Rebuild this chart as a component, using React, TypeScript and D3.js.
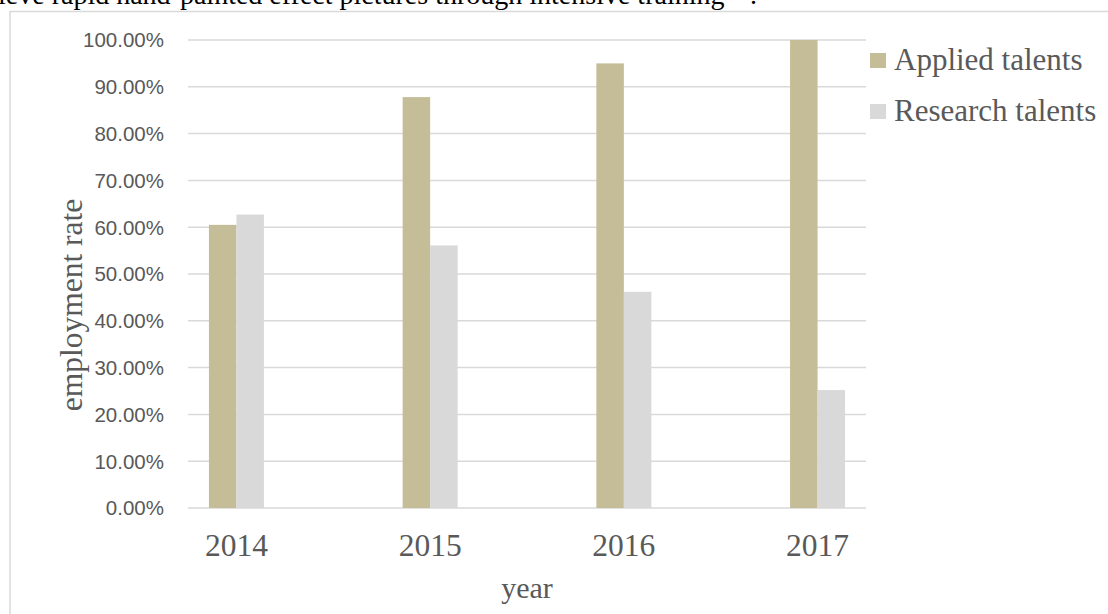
import React, { useEffect, useRef } from 'react';
import * as d3 from 'd3';

const years = ['2014', '2015', '2016', '2017'];
const seriesNames = ['Applied talents', 'Research talents'];
const applied = [0.605, 0.878, 0.950, 1.0];
const research = [0.627, 0.561, 0.462, 0.252];
const yTicks = [0, 0.1, 0.2, 0.3, 0.4, 0.5, 0.6, 0.7, 0.8, 0.9, 1.0];

const colors = ['#C4BD97', '#D9D9D9'];

const App: React.FC = () => {
  const ref = useRef<SVGSVGElement | null>(null);

  useEffect(() => {
    if (!ref.current) return;
    const W = 1108, H = 614;
    const plot = { left: 188, right: 866, top: 40, bottom: 508 };

    const svg = d3.select(ref.current)
      .attr('width', W)
      .attr('height', H);
    svg.selectAll('*').remove();

    // paragraph text above the chart, cut by the top of the page
    const para = svg.append('text')
      .attr('x', -2)
      .attr('y', 4)
      .style('font-family', '"Liberation Serif", "Times New Roman", serif')
      .style('font-size', '28px')
      .style('fill', '#000');
    para.append('tspan').text('ieve rapid hand-painted effect pictures through intensive training');
    para.append('tspan').attr('dy', -12).style('font-size', '18px').text(' [5]');
    para.append('tspan').attr('dy', 12).text('.');

    // chart frame
    svg.append('rect')
      .attr('x', 10)
      .attr('y', 11.5)
      .attr('width', W + 20)
      .attr('height', H + 20)
      .attr('fill', 'none')
      .attr('stroke', '#D9D9D9')
      .attr('stroke-width', 1.5);

    const y = d3.scaleLinear().domain([0, 1]).range([plot.bottom, plot.top]);
    const x = d3.scalePoint<string>().domain(years).range([plot.left, plot.right]).padding(0.25);
    const xs = d3.scaleBand<string>().domain(seriesNames).range([-27.5, 27.5]).padding(0);

    // gridlines
    svg.append('g')
      .selectAll('line')
      .data(yTicks)
      .join('line')
      .attr('x1', plot.left)
      .attr('x2', plot.right)
      .attr('y1', d => y(d))
      .attr('y2', d => y(d))
      .attr('stroke', '#D9D9D9')
      .attr('stroke-width', 1.5);

    // y tick labels
    svg.append('g')
      .selectAll('text')
      .data(yTicks)
      .join('text')
      .attr('x', 164)
      .attr('y', d => y(d))
      .attr('dy', '0.36em')
      .attr('text-anchor', 'end')
      .style('font-family', '"Liberation Sans", Arial, sans-serif')
      .style('font-size', '20.5px')
      .style('fill', '#595959')
      .text(d => d3.format('.2%')(d));

    // bars
    const seriesData = [applied, research];
    seriesData.forEach((vals, si) => {
      svg.append('g')
        .selectAll('rect')
        .data(vals)
        .join('rect')
        .attr('x', (d, i) => (x(years[i]) as number) + (xs(seriesNames[si]) as number))
        .attr('y', d => y(d))
        .attr('width', xs.bandwidth())
        .attr('height', d => y(0) - y(d))
        .attr('fill', colors[si]);
    });

    // x labels
    svg.append('g')
      .selectAll('text')
      .data(years)
      .join('text')
      .attr('x', d => x(d) as number)
      .attr('y', 556)
      .attr('text-anchor', 'middle')
      .style('font-family', '"Liberation Serif", "Times New Roman", serif')
      .style('font-size', '31.5px')
      .style('fill', '#595959')
      .text(d => d);

    // axis titles
    svg.append('text')
      .attr('x', (plot.left + plot.right) / 2)
      .attr('y', 598)
      .attr('text-anchor', 'middle')
      .style('font-family', '"Liberation Serif", "Times New Roman", serif')
      .style('font-size', '30px')
      .style('fill', '#595959')
      .text('year');

    svg.append('text')
      .attr('transform', `translate(82,${305}) rotate(-90)`)
      .attr('text-anchor', 'middle')
      .style('font-family', '"Liberation Serif", "Times New Roman", serif')
      .style('font-size', '31.5px')
      .style('fill', '#595959')
      .text('employment rate');

    // legend
    const legend = svg.append('g')
      .selectAll('g')
      .data(seriesNames)
      .join('g')
      .attr('transform', (d, i) => `translate(870,${53 + i * 51})`);
    legend.append('rect')
      .attr('width', 16)
      .attr('height', 15)
      .attr('fill', (d, i) => colors[i]);
    legend.append('text')
      .attr('x', 24)
      .attr('y', 17)
      .style('font-family', '"Liberation Serif", "Times New Roman", serif')
      .style('font-size', '31px')
      .style('fill', '#595959')
      .text(d => d);
  }, []);

  return (
    <svg ref={ref} style={{ position: 'absolute', left: 0, top: 0 }} />
  );
};

export default App;
